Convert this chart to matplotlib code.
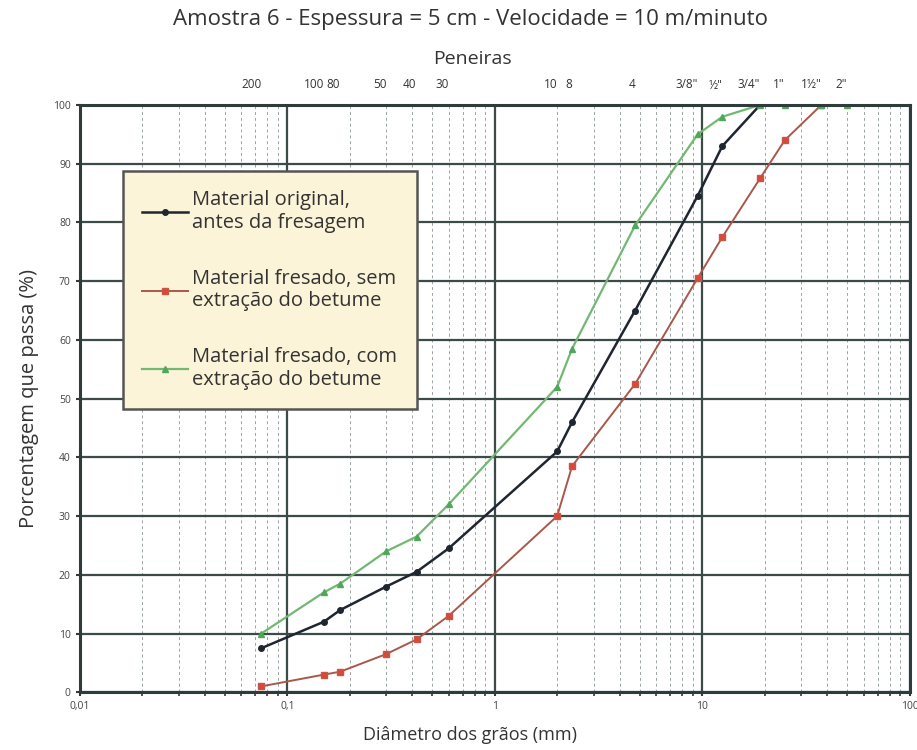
import numpy as np
import matplotlib
matplotlib.use("Agg")
import matplotlib.pyplot as plt
from matplotlib.ticker import FixedLocator, NullFormatter

plt.rcParams['font.family'] = ['Open Sans', 'DejaVu Sans']

### sieve openings (mm) and names
sieve_mm = [0.075, 0.15, 0.18, 0.3, 0.42, 0.6, 2.0, 2.36, 4.75, 9.5, 12.5, 19.0, 25.0, 37.5, 50.0]
sieve_names = ["200", "100", "80", "50", "40", "30", "10", "8", "4",
               "3/8\"", "½\"", "3/4\"", "1\"", "1½\"", "2\""]

### passing percentages
original_mm = [0.075, 0.15, 0.18, 0.3, 0.42, 0.6, 2.0, 2.36, 4.75, 9.5, 12.5, 19.0]
original_pct = [7.5, 12, 14, 18, 20.5, 24.5, 41, 46, 65, 84.5, 93, 100]

sem_mm = [0.075, 0.15, 0.18, 0.3, 0.42, 0.6, 2.0, 2.36, 4.75, 9.5, 12.5, 19.0, 25.0, 37.5]
sem_pct = [1, 3, 3.5, 6.5, 9, 13, 30, 38.5, 52.5, 70.5, 77.5, 87.5, 94, 100]

com_mm = [0.075, 0.15, 0.18, 0.3, 0.42, 0.6, 2.0, 2.36, 4.75, 9.5, 12.5, 19.0, 25.0, 37.5, 50.0]
com_pct = [10, 17, 18.5, 24, 26.5, 32, 52, 58.5, 79.5, 95, 98, 100, 100, 100, 100]

labels = ["Material original,\nantes da fresagem",
          "Material fresado, sem\nextração do betume",
          "Material fresado, com\nextração do betume"]

fig = plt.figure(figsize=(9.17, 7.5), dpi=100)
ax = fig.add_axes([0.087, 0.077, 0.905, 0.783])

ax.set_xscale("log")
ax.set_xlim(0.01, 100)
ax.set_ylim(0, 100)

### grid: solid decades and every 10 %, dashed minor lines
ax.xaxis.set_major_locator(FixedLocator([0.01, 0.1, 1, 10, 100]))
ax.set_xticklabels(["0,01", "0,1", "1", "10", "100"])
minor = [m * 10.0**e for e in range(-2, 2) for m in range(2, 10)]
ax.xaxis.set_minor_locator(FixedLocator(minor))
ax.xaxis.set_minor_formatter(NullFormatter())
ax.set_yticks(np.arange(0, 101, 10))
ax.grid(True, which="major", axis="both", color="#3d4a4a", lw=1.6)
ax.grid(True, which="minor", axis="x", color="#9aa3a3", lw=0.7, ls=(0, (3, 3)))
ax.set_axisbelow(True)
for s in ax.spines.values():
    s.set_color("#2f3a3a")
    s.set_linewidth(2.2)
ax.tick_params(axis="both", which="major", labelsize=7.5, colors="#2f3a3a",
               length=3, width=1.5, labelcolor="#444444")
ax.tick_params(axis="x", which="minor", length=3, width=1.2, colors="#2f3a3a")

ax.plot(original_mm, original_pct, color="#1f2630", lw=1.8, marker="o", ms=4,
        mfc="#1f2630", mec="#1f2630", label=labels[0])
ax.plot(sem_mm, sem_pct, color="#a8584a", lw=1.4, marker="s", ms=4.5,
        mfc="#d8493a", mec="#c85545", label=labels[1])
ax.plot(com_mm, com_pct, color="#72b873", lw=1.6, marker="^", ms=4,
        mfc="#4fa85a", mec="#4fa85a", label=labels[2])

### top axis with sieve names (labels sit just left of their sieve)
top = ax.secondary_xaxis("top")
top.set_xticks(sieve_mm)
top.set_xticklabels(sieve_names)
top.xaxis.set_minor_locator(FixedLocator([]))
top.tick_params(length=0, labelsize=8.5, pad=10, labelcolor="#333333")
top.spines["top"].set_visible(False)
for lbl in top.get_xticklabels():
    lbl.set_horizontalalignment("right")
fig.text(0.515, 0.922, "Peneiras", ha="center", va="center", fontsize=14,
         color="#333333")

leg = ax.legend(loc="upper left", bbox_to_anchor=(0.052, 0.887), fontsize=14.5,
                frameon=True, fancybox=False, handlelength=2.3, labelspacing=1.8,
                borderpad=0.95, handletextpad=0.2, borderaxespad=0)
leg.get_frame().set_facecolor("#fbf4d8")
leg.get_frame().set_edgecolor("#555555")
leg.get_frame().set_linewidth(1.8)
leg.get_frame().set_alpha(1)
for t in leg.get_texts():
    t.set_color("#333333")
    t.set_linespacing(1.15)

ax.set_xlabel("Diâmetro dos grãos (mm)", fontsize=13, color="#333333", labelpad=10)
ax.xaxis.label.set_x(0.47)
ax.set_ylabel("Porcentagem que passa (%)", fontsize=14.5, color="#333333", labelpad=10)
fig.text(0.513, 0.974, "Amostra 6 - Espessura = 5 cm - Velocidade = 10 m/minuto",
         ha="center", va="center", fontsize=16, color="#333333")

fig.savefig("out.png", dpi=100)
